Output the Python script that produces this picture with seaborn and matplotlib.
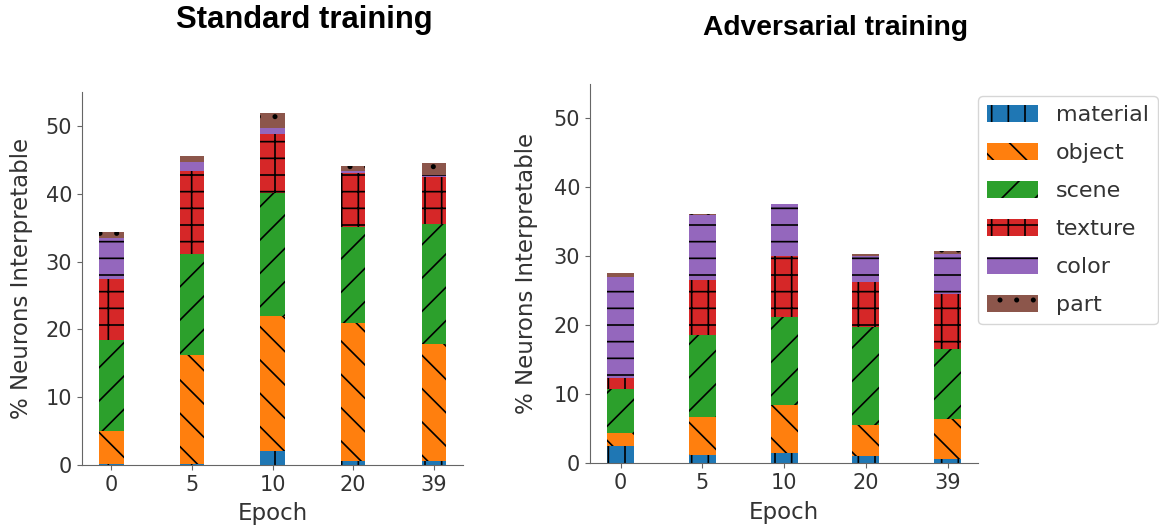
import matplotlib
matplotlib.use("Agg")
import matplotlib.pyplot as plt
import seaborn as sns
import numpy as np

epochs = ["0", "5", "10", "20", "39"]
concepts = ["material", "object", "scene", "texture", "color", "part"]
colors = ["#1f77b4", "#ff7f0e", "#2ca02c", "#d62728", "#9467bd", "#8c564b"]
hatches = ["|", "\\", "/", "+", "-", "."]

# % of neurons interpretable per concept, standard training
std_material = [0.2, 0.2, 2.1, 0.6, 0.6]
std_object = [4.8, 16.0, 19.8, 20.3, 17.2]
std_scene = [13.4, 14.9, 18.2, 14.2, 17.7]
std_texture = [9.1, 12.2, 8.7, 7.9, 6.9]
std_color = [5.9, 1.4, 0.9, 0.4, 0.4]
std_part = [0.9, 0.9, 2.2, 0.7, 1.8]

# adversarial training
adv_material = [2.4, 1.2, 1.4, 1.0, 0.6]
adv_object = [2.0, 5.5, 7.0, 4.5, 5.8]
adv_scene = [6.3, 11.9, 12.8, 14.3, 10.1]
adv_texture = [1.6, 7.9, 8.9, 6.4, 8.0]
adv_color = [14.7, 9.5, 7.5, 3.9, 5.9]
adv_part = [0.5, 0.2, 0.05, 0.3, 0.3]

std_data = [std_material, std_object, std_scene, std_texture, std_color, std_part]
adv_data = [adv_material, adv_object, adv_scene, adv_texture, adv_color, adv_part]

sns.set_style("ticks")
plt.rcParams["font.family"] = ["DejaVu Sans"]
plt.rcParams["hatch.linewidth"] = 1.2

fig = plt.figure(figsize=(11.59, 5.31), dpi=100)
ax1 = fig.add_axes([0.0708, 0.1243, 0.3287, 0.7024])
ax2 = fig.add_axes([0.5091, 0.1281, 0.3348, 0.7137])


def stacked(ax, data, width):
    bottom = np.zeros(len(epochs))
    for vals, name, c, h in zip(data, concepts, colors, hatches):
        sns.barplot(x=epochs, y=vals, bottom=bottom, color=c, hatch=h,
                    width=width, saturation=1, edgecolor="black", linewidth=0,
                    label=name, legend=False, ax=ax)
        bottom = bottom + np.array(vals)
    if ax.get_legend() is not None:
        ax.get_legend().remove()
    ax.set_ylim(0, 55)
    ax.set_yticks([0, 10, 20, 30, 40, 50])
    ax.tick_params(labelsize=15, colors="0.4", labelcolor="0.2")
    for s in ["left", "bottom"]:
        ax.spines[s].set_color("0.4")
    sns.despine(ax=ax)
    ax.set_xlabel("Epoch", fontsize=16.5, color="0.2")
    ax.set_ylabel("% Neurons Interpretable", fontsize=16.5, color="0.2")


stacked(ax1, std_data, 0.3)
stacked(ax2, adv_data, 0.33)
ax1.set_xlim(-0.365, 4.365)
ax2.set_xlim(-0.373, 4.37)

ax1.yaxis.set_label_coords(-0.129, 0.5)
ax2.yaxis.set_label_coords(-0.134, 0.5)
ax1.xaxis.set_label_coords(0.5, -0.1)
ax2.xaxis.set_label_coords(0.5, -0.1)

fig.text(304 / 1159, 1 - 20 / 531, "Standard training", fontsize=22.3,
         fontweight="bold", family="Liberation Sans", ha="center", va="center",
         color="black")
fig.text(835 / 1159, 1 - 28 / 531, "Adversarial training", fontsize=20.3,
         fontweight="bold", family="Liberation Sans", ha="center", va="center",
         color="black")

handles = [ax2.containers[i] for i in range(len(concepts))]
leg = ax2.legend(handles, concepts, loc="upper left", bbox_to_anchor=(1.0, 0.968),
                 borderaxespad=0, fontsize=16, handlelength=2.3, handleheight=0.8,
                 labelspacing=0.8)
for t in leg.get_texts():
    t.set_color("0.2")

fig.savefig("out.png", dpi=100)
